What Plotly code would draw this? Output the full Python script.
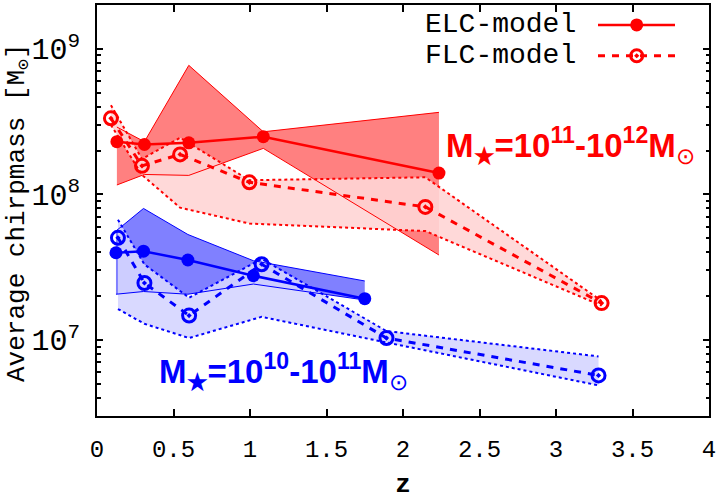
import numpy as np
import plotly.graph_objects as go

# ---- data: average chirp mass vs redshift ----
# high stellar-mass bin (1e11-1e12 Msun)
z_elc_hi = [0.13, 0.31, 0.60, 1.087, 2.235]
m_elc_hi = [2.3e8, 2.2e8, 2.26e8, 2.49e8, 1.4e8]
elc_hi_up = [2.9e8, 2.3e8, 7.7e8, 2.69e8, 3.66e8]
elc_hi_lo = [1.16e8, 1.37e8, 1.35e8, 2.07e8, 3.83e7]

z_flc_hi = [0.091, 0.294, 0.543, 0.996, 2.146, 3.298]
m_flc_hi = [3.33e8, 1.57e8, 1.88e8, 1.21e8, 8.2e7, 1.79e7]
flc_hi_up = [4.1e8, 1.75e8, 2.45e8, 1.25e8, 1.31e8, 1.85e7]
flc_hi_lo = [3.0e8, 1.36e8, 8.1e7, 6.3e7, 5.6e7, 1.72e7]

# low stellar-mass bin (1e10-1e11 Msun)
z_elc_lo = [0.124, 0.304, 0.594, 1.022, 1.75]
m_elc_lo = [3.97e7, 4.07e7, 3.54e7, 2.76e7, 1.92e7]
elc_lo_up = [5.6e7, 8.0e7, 5.3e7, 3.5e7, 2.54e7]
elc_lo_lo = [2.06e7, 2.15e7, 2.06e7, 2.42e7, 1.88e7]

z_flc_lo = [0.137, 0.31, 0.602, 1.076, 1.892, 3.278]
m_flc_lo = [5.03e7, 2.46e7, 1.47e7, 3.31e7, 1.03e7, 5.7e6]
flc_lo_up = [6.7e7, 3.3e7, 1.95e7, 3.6e7, 1.15e7, 7.7e6]
flc_lo_lo = [1.63e7, 1.29e7, 1.03e7, 1.44e7, 9.6e6, 4.87e6]

x_ticks = [0, 0.5, 1, 1.5, 2, 2.5, 3, 3.5, 4]
x_ticklabels = ["0", "0.5", "1", "1.5", "2", "2.5", "3", "3.5", "4"]

RED = "#ff0000"
BLUE = "#0000ff"
MONO = "Liberation Mono, Courier New, monospace"
SANS = "Liberation Sans, Arial, sans-serif"

# figure geometry (pixels)
W, H = 722, 500
L, R, T, B = 97, 13, 3, 84


def px2paper(px, py):
    return (px - L) / (W - L - R), 1 - (py - T) / (H - T - B)


fig = go.Figure()


def band(z, up, lo, color):
    fig.add_trace(go.Scatter(
        x=list(z) + list(z)[::-1], y=list(up) + list(lo)[::-1],
        fill="toself", fillcolor=color, mode="none",
        hoverinfo="skip", showlegend=False))


def edge(z, y, color, width, dash):
    fig.add_trace(go.Scatter(
        x=z, y=y, mode="lines", line=dict(color=color, width=width, dash=dash),
        hoverinfo="skip", showlegend=False))


# shaded ranges: ELC first, FLC on top
band(z_elc_hi, elc_hi_up, elc_hi_lo, "rgb(255,128,128)")
band(z_elc_lo, elc_lo_up, elc_lo_lo, "rgb(128,128,255)")
band(z_flc_hi, flc_hi_up, flc_hi_lo, "rgba(255,213,213,0.9)")
band(z_flc_lo, flc_lo_up, flc_lo_lo, "rgba(213,213,255,0.9)")

# band borders
for z, up, lo, c in [(z_elc_hi, elc_hi_up, elc_hi_lo, RED),
                     (z_elc_lo, elc_lo_up, elc_lo_lo, BLUE)]:
    edge(z, up, c, 1, "solid")
    edge(z, lo, c, 1, "solid")
for z, up, lo, c in [(z_flc_hi, flc_hi_up, flc_hi_lo, RED),
                     (z_flc_lo, flc_lo_up, flc_lo_lo, BLUE)]:
    edge(z, up, c, 2, "3px,3px")
    edge(z, lo, c, 2, "3px,3px")

# main curves
for z, m, c in [(z_elc_hi, m_elc_hi, RED), (z_elc_lo, m_elc_lo, BLUE)]:
    fig.add_trace(go.Scatter(
        x=z, y=m, mode="lines+markers",
        line=dict(color=c, width=2.5),
        marker=dict(symbol="circle", size=13, color=c),
        showlegend=False))
for z, m, c in [(z_flc_hi, m_flc_hi, RED), (z_flc_lo, m_flc_lo, BLUE)]:
    fig.add_trace(go.Scatter(
        x=z, y=m, mode="lines+markers",
        line=dict(color=c, width=3, dash="7px,7px"),
        marker=dict(symbol="circle-open-dot", size=13, color=c,
                    line=dict(color=c, width=3)),
        showlegend=False))

# legend samples on an overlay axis in pixel units
LEG_Y = [23, 54]
fig.add_trace(go.Scatter(
    x=[598, 675], y=[LEG_Y[0]] * 2, xaxis="x2", yaxis="y2", mode="lines",
    line=dict(color=RED, width=2.5), hoverinfo="skip", showlegend=False))
fig.add_trace(go.Scatter(
    x=[636.7], y=[LEG_Y[0]], xaxis="x2", yaxis="y2", mode="markers",
    marker=dict(symbol="circle", size=13, color=RED),
    hoverinfo="skip", showlegend=False))
fig.add_trace(go.Scatter(
    x=[598, 675], y=[LEG_Y[1]] * 2, xaxis="x2", yaxis="y2", mode="lines",
    line=dict(color=RED, width=3, dash="7px,7px"),
    hoverinfo="skip", showlegend=False))
fig.add_trace(go.Scatter(
    x=[636.7], y=[LEG_Y[1]], xaxis="x2", yaxis="y2", mode="markers",
    marker=dict(symbol="circle-open-dot", size=12, color=RED,
                line=dict(color=RED, width=3)),
    hoverinfo="skip", showlegend=False))

annotations = []
for txt, py in [("ELC-model", LEG_Y[0]), ("FLC-model", LEG_Y[1])]:
    ax, ay = px2paper(578, py)
    annotations.append(dict(
        text=txt, x=ax, y=ay, xref="paper", yref="paper",
        xanchor="right", yanchor="middle", showarrow=False,
        font=dict(family=MONO, size=28, color="black")))

annotations.append(dict(
    text="<b>M<sub>★</sub>=10<sup>11</sup>-10<sup>12</sup>M</b><sub>⊙</sub>",
    x=2.27, y=np.log10(2.16e8), xref="x", yref="y",
    xanchor="left", yanchor="middle", showarrow=False,
    font=dict(family=SANS, size=33, color=RED)))
annotations.append(dict(
    text="<b>M<sub>★</sub>=10<sup>10</sup>-10<sup>11</sup>M</b><sub>⊙</sub>",
    x=0.39, y=np.log10(6.1e6), xref="x", yref="y",
    xanchor="left", yanchor="middle", showarrow=False,
    font=dict(family=SANS, size=33, color=BLUE)))

# y-axis title, placed as rotated text
tx, ty = px2paper(18, 212)
annotations.append(dict(
    text="Average chirpmass [M<sub>⊙</sub>]", x=tx, y=ty,
    xref="paper", yref="paper", xanchor="center", yanchor="middle",
    textangle=-90, showarrow=False,
    font=dict(family=MONO, size=26, color="black")))

axis_common = dict(
    showgrid=False, zeroline=False, showline=True, linecolor="black",
    linewidth=2, mirror="allticks", ticks="inside", tickcolor="black",
    tickwidth=1.5, tickfont=dict(family=MONO, size=24, color="black"),
)

fig.update_layout(
    width=W, height=H,
    margin=dict(l=L, r=R, t=T, b=B),
    paper_bgcolor="white", plot_bgcolor="white",
    xaxis=dict(
        range=[0, 4], tickvals=x_ticks, ticktext=x_ticklabels, ticklen=7,
        ticklabelstandoff=10,
        title=dict(text="<b>z</b>", font=dict(family=MONO, size=26, color="black"),
                   standoff=14),
        **axis_common),
    yaxis=dict(
        type="log", range=[np.log10(3e6), np.log10(2e9)], dtick=1,
        exponentformat="power", ticklen=6, ticklabelstandoff=10,
        minor=dict(dtick="D1", ticks="inside", ticklen=3.5, tickcolor="black",
                   tickwidth=1.5, showgrid=False),
        **axis_common),
    xaxis2=dict(overlaying="x", range=[L, W - R], visible=False),
    yaxis2=dict(overlaying="y", range=[H - B, T], visible=False),
    annotations=annotations,
)

fig.write_html("out.html")
